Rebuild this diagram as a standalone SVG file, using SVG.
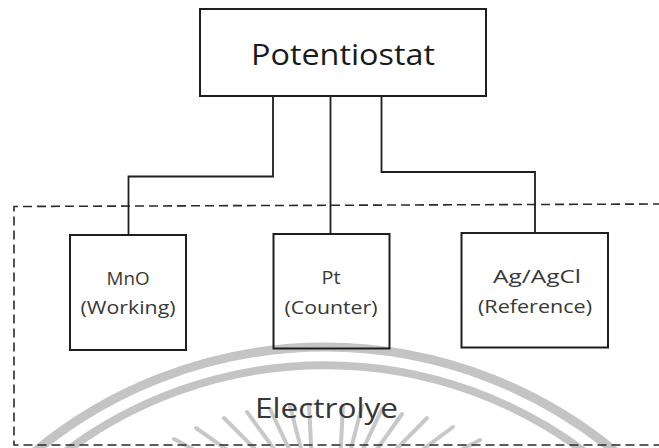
<svg xmlns="http://www.w3.org/2000/svg" width="659" height="448" viewBox="0 0 659 448">
  <style>
    .box { fill: none; stroke: #1e1e1e; stroke-width: 2; }
    .wire { fill: none; stroke: #1e1e1e; stroke-width: 1.8; }
    .dash { fill: none; stroke: #2a2a2a; stroke-width: 1.6; stroke-dasharray: 9 5; }
    .lbl { font-family: "Open Sans", "Liberation Sans", sans-serif; font-size: 19px; fill: #383838; text-anchor: middle; }
    .title { font-family: "Open Sans", "Liberation Sans", sans-serif; font-size: 30px; fill: #1a1a1a; text-anchor: middle; }
    .elec { font-family: "Open Sans", "Liberation Sans", sans-serif; font-size: 28px; fill: #363636; text-anchor: middle; }
    .wm { fill: none; stroke: #c4c4c4; }
    .ray { stroke: #c8c8c8; stroke-width: 4; stroke-linecap: round; }
  </style>
  <rect width="659" height="448" fill="#ffffff"/>

  <!-- faint background watermark -->
  <g id="watermark">
    <path class="wm" stroke-width="9" d="M 25 460 A 455 455 0 0 1 625 460"/>
    <path class="wm" stroke-width="8" d="M 55 460 A 432 432 0 0 1 595 460"/>
    <g id="rays">
      <line class="ray" x1="273" y1="492" x2="174" y2="439"/>
      <line class="ray" x1="277" y1="485" x2="196" y2="428"/>
      <line class="ray" x1="284" y1="478" x2="224" y2="418"/>
      <line class="ray" x1="291" y1="472" x2="247" y2="412"/>
      <line class="ray" x1="298" y1="468" x2="270" y2="409"/>
      <line class="ray" x1="305" y1="464" x2="290" y2="406"/>
      <line class="ray" x1="312" y1="462" x2="309" y2="406"/>
      <line class="ray" x1="340" y1="462" x2="343" y2="406"/>
      <line class="ray" x1="347" y1="464" x2="362" y2="406"/>
      <line class="ray" x1="354" y1="468" x2="382" y2="409"/>
      <line class="ray" x1="361" y1="472" x2="402" y2="414"/>
      <line class="ray" x1="368" y1="478" x2="427" y2="418"/>
      <line class="ray" x1="375" y1="485" x2="453" y2="427"/>
      <line class="ray" x1="379" y1="492" x2="480" y2="440"/>
    </g>
  </g>

  <!-- electrolyte region -->
  <path id="electrolyte-region" class="dash" d="M 662 204 L 14 206.5 L 14 445 L 662 445"/>

  <g id="connectors">
    <path class="wire" d="M 273 96 L 273 176.5 L 128.5 176.5 L 128.5 235"/>
    <path class="wire" d="M 330.5 96 L 330.5 234"/>
    <path class="wire" d="M 381.5 95 L 381.5 172 L 535 172 L 535 233"/>
  </g>

  <g id="potentiostat">
    <rect class="box" x="200" y="9" width="286" height="87"/>
    <text class="title" x="343" y="65" textLength="184" lengthAdjust="spacingAndGlyphs">Potentiostat</text>
  </g>

  <g id="mno">
    <rect class="box" x="70" y="235" width="116" height="115"/>
    <text class="lbl" x="128" y="285" textLength="43" lengthAdjust="spacingAndGlyphs">MnO</text>
    <text class="lbl" x="128" y="314" textLength="95" lengthAdjust="spacingAndGlyphs">(Working)</text>
  </g>

  <g id="pt">
    <rect class="box" x="273.5" y="234" width="116" height="114.5"/>
    <text class="lbl" x="331" y="284" textLength="19" lengthAdjust="spacingAndGlyphs">Pt</text>
    <text class="lbl" x="331" y="314" textLength="93" lengthAdjust="spacingAndGlyphs">(Counter)</text>
  </g>

  <g id="agagcl">
    <rect class="box" x="461.5" y="233" width="146.5" height="114.5"/>
    <text class="lbl" x="537" y="283" textLength="88" lengthAdjust="spacingAndGlyphs">Ag/AgCl</text>
    <text class="lbl" x="535" y="313" textLength="114" lengthAdjust="spacingAndGlyphs">(Reference)</text>
  </g>

  <g id="electrolyte-label">
    <text class="elec" x="326.5" y="418" textLength="143" lengthAdjust="spacingAndGlyphs">Electrolye</text>
  </g>
</svg>
